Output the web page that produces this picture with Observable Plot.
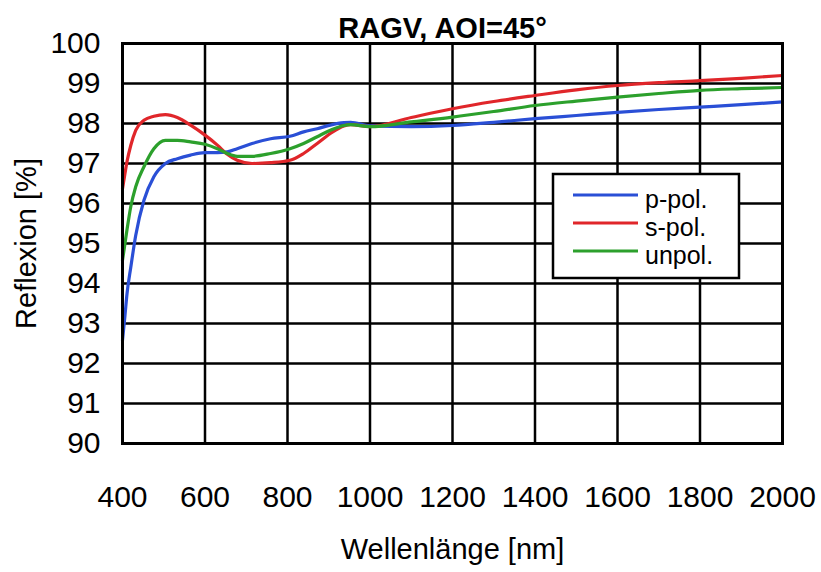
<!DOCTYPE html>
<html><head><meta charset="utf-8">
<script src="https://cdn.jsdelivr.net/npm/d3@7"></script>
<script src="https://cdn.jsdelivr.net/npm/@observablehq/plot@0.6"></script>
<style>body{margin:0;background:#fff;}</style>
</head><body><div id="chart"></div>
<script>
const titleText = "RAGV, AOI=45°";
const xLabel = "Wellenlänge [nm]";
const yLabel = "Reflexion [%]";
const xTicks = [400, 600, 800, 1000, 1200, 1400, 1600, 1800, 2000];
const yTicks = [90, 91, 92, 93, 94, 95, 96, 97, 98, 99, 100];
const seriesNames = ["p-pol.", "s-pol.", "unpol."];
const seriesColors = ["#2a4fd6", "#e0262a", "#2ca02c"];

const wavelengths = [400, 406, 411, 420, 432, 452, 476, 504, 533, 565, 600, 630, 654, 678, 714, 759, 806, 839, 872, 904, 937, 953, 1000, 1100, 1200, 1300, 1400, 1500, 1600, 1700, 1800, 1900, 2000];
const pPol = [92.58, 93.2, 93.75, 94.4, 95.2, 96.08, 96.67, 97.0, 97.12, 97.21, 97.27, 97.27, 97.29, 97.37, 97.5, 97.62, 97.68, 97.79, 97.87, 97.96, 98.02, 98.03, 97.94, 97.92, 97.95, 98.03, 98.12, 98.2, 98.28, 98.35, 98.41, 98.47, 98.54];
const sPol = [96.37, 96.75, 97.05, 97.45, 97.83, 98.08, 98.18, 98.22, 98.15, 97.96, 97.71, 97.46, 97.23, 97.08, 97.0, 97.02, 97.08, 97.25, 97.5, 97.75, 97.94, 97.97, 97.92, 98.15, 98.37, 98.55, 98.7, 98.84, 98.95, 99.02, 99.07, 99.13, 99.2];
const unPol = [94.58, 95.0, 95.35, 95.92, 96.42, 96.92, 97.37, 97.58, 97.58, 97.54, 97.48, 97.37, 97.25, 97.18, 97.18, 97.25, 97.37, 97.5, 97.67, 97.83, 97.95, 97.97, 97.92, 98.04, 98.16, 98.3, 98.45, 98.56, 98.66, 98.75, 98.83, 98.87, 98.9];

const seriesValues = [pPol, sPol, unPol];
const data = [];
seriesNames.forEach((name, i) => {
  wavelengths.forEach((wl, j) => data.push({series: name, wl, value: seriesValues[i][j]}));
});

const chart = Plot.plot({
  width: 821, height: 572,
  marginLeft: 122, marginRight: 39, marginTop: 43, marginBottom: 129,
  style: {fontFamily: "'Liberation Sans', Arial, sans-serif", background: "#fff", color: "#000"},
  x: {domain: [400, 2000]},
  y: {domain: [90, 100]},
  color: {domain: seriesNames, range: seriesColors},
  marks: [
    Plot.gridX(xTicks, {stroke: "#000", strokeOpacity: 1, strokeWidth: 2.5}),
    Plot.gridY(yTicks, {stroke: "#000", strokeOpacity: 1, strokeWidth: 2.5}),
    Plot.line(data, {x: "wl", y: "value", z: "series", stroke: "series", strokeWidth: 3.2, curve: "monotone-x"}),
    Plot.frame({stroke: "#000", strokeWidth: 3}),
    Plot.axisX(xTicks, {tickSize: 0, tickPadding: 42, fontSize: 30, tickFormat: d => String(d), label: null}),
    Plot.axisY(yTicks, {tickSize: 0, tickPadding: 22, fontSize: 30, label: null}),
    Plot.text([titleText], {text: d => d, frameAnchor: "top", dy: -26, dx: -10, fontSize: 29, fontWeight: "bold"}),
    Plot.text([xLabel], {text: d => d, frameAnchor: "bottom", dy: 115, fontSize: 29}),
    Plot.text([yLabel], {text: d => d, frameAnchor: "left", textAnchor: "middle", dx: -96, rotate: -90, fontSize: 29})
  ]
});
document.getElementById("chart").append(chart);

// legend
const svg = d3.select(chart);
const lg = svg.append("g").attr("font-family", "'Liberation Sans', Arial, sans-serif").attr("text-anchor", "start");
lg.append("rect").attr("x", 553).attr("y", 174).attr("width", 186).attr("height", 104)
  .attr("fill", "#fff").attr("stroke", "#000").attr("stroke-width", 2.5);
const rowY = [195, 223, 251];
seriesNames.forEach((name, i) => {
  lg.append("line").attr("x1", 573).attr("x2", 638).attr("y1", rowY[i]).attr("y2", rowY[i])
    .attr("stroke", seriesColors[i]).attr("stroke-width", 3);
  lg.append("text").attr("x", 645).attr("y", rowY[i] + 13).attr("font-size", 25)
    .attr("text-anchor", "start").attr("fill", "#000").text(name);
});
</script>
</body></html>
